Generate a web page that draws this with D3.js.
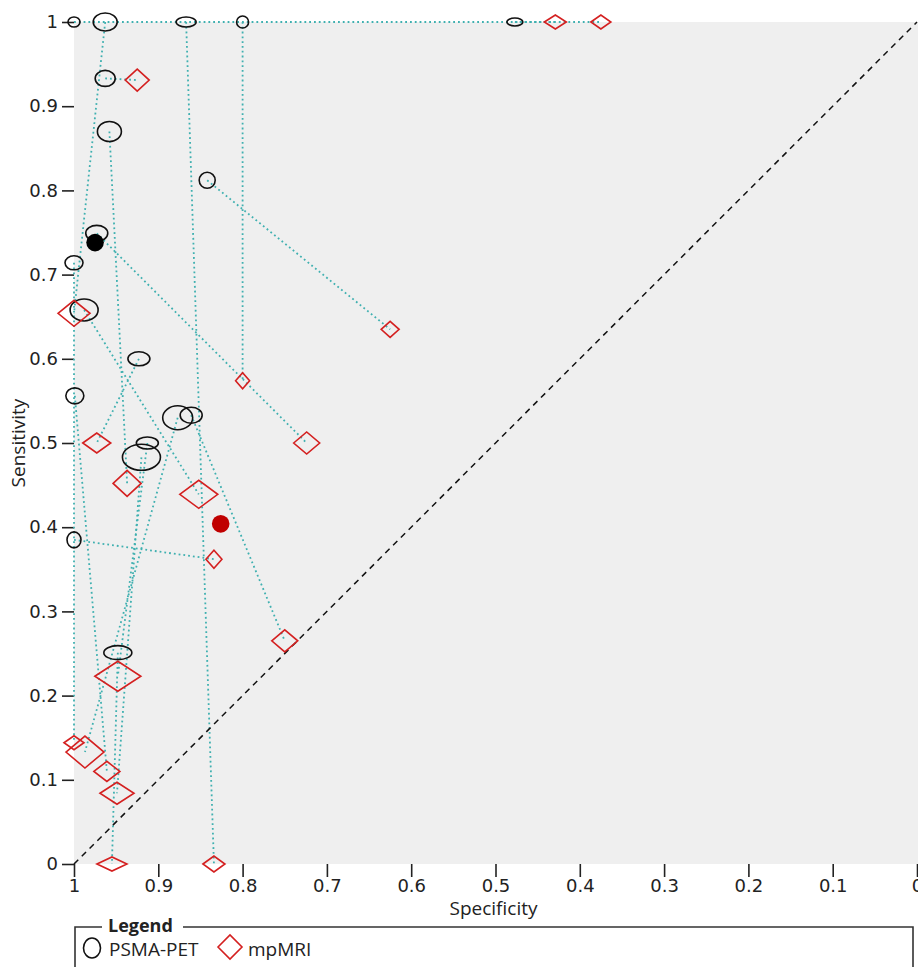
<!DOCTYPE html>
<html>
<head>
<meta charset="utf-8">
<script src="https://cdn.jsdelivr.net/npm/d3@7"></script>
<style>
    body { margin: 0; background: #fff; }
    svg { display: block; }
    text { font-family: "DejaVu Sans", sans-serif; fill: #222; }
</style>
</head>
<body>
<svg id="chart" width="918" height="967"></svg>
<script>
// PSMA-PET study estimates (index i is paired with mpMRI index i)
var petSpec = [1.000, 0.477, 0.963, 0.867, 0.800, 0.963, 0.958, 0.842, 0.973, 1.000,
               0.988, 0.923, 0.999, 0.877, 0.861, 0.913, 0.920, 1.000, 0.948];
var petSens = [1.000, 1.000, 1.000, 1.000, 1.000, 0.933, 0.870, 0.812, 0.749, 0.714,
               0.658, 0.600, 0.556, 0.530, 0.533, 0.500, 0.483, 0.385, 0.251];
// relative precision weights (negatives -> width, positives -> height)
var petWNeg = [6, 8, 12, 10, 6, 10, 12, 8, 11, 9, 14, 11, 9, 15, 11, 11, 19, 7, 14];
var petWPos = [5, 4, 9, 5, 6, 8, 10, 8, 8, 7, 11, 7, 8, 12, 8, 6, 13, 8, 7];

// mpMRI study estimates
var mriSpec = [0.375, 0.429, 1.000, 0.834, 0.800, 0.925, 0.937, 0.625, 0.724, 1.000,
               0.852, 0.973, 0.961, 0.987, 0.750, 0.948, 0.949, 0.834, 0.955];
var mriSens = [1.000, 1.000, 0.654, 0.000, 0.574, 0.931, 0.452, 0.635, 0.500, 0.144,
               0.439, 0.500, 0.110, 0.133, 0.265, 0.223, 0.084, 0.362, 0.000];
var mriWNeg = [10, 11, 16, 11, 7, 12, 14, 9, 13, 10, 19, 14, 13, 19, 13, 23, 17, 8, 15];
var mriWPos = [7, 7, 13, 8, 8, 11, 13, 8, 11, 7, 14, 10, 10, 16, 11, 15, 11, 9, 7];

// summary points
var summarySpec = [0.975, 0.826];
var summarySens = [0.738, 0.404];
var summaryColor = ['#000000', '#c00000'];

var ticks = [1, 0.9, 0.8, 0.7, 0.6, 0.5, 0.4, 0.3, 0.2, 0.1, 0];
var tickLabels = ['1', '0.9', '0.8', '0.7', '0.6', '0.5', '0.4', '0.3', '0.2', '0.1', '0'];

var svg = d3.select('#chart');
var plotLeft = 74, plotTop = 22, plotW = 843, plotH = 842;

var x = d3.scaleLinear().domain([1, 0]).range([plotLeft, plotLeft + plotW]);
var y = d3.scaleLinear().domain([0, 1]).range([plotTop + plotH, plotTop]);
var size = d3.scaleLinear().domain([0, 10]).range([0, 10]);

// plot background
svg.append('rect')
    .attr('x', plotLeft).attr('y', plotTop)
    .attr('width', 918 - plotLeft).attr('height', plotH)
    .attr('fill', '#efefef');

// axes
var fmt = function (d) { return tickLabels[ticks.indexOf(d)]; };

var yAxis = svg.append('g')
    .attr('transform', 'translate(' + plotLeft + ',0)')
    .call(d3.axisLeft(y).tickValues(ticks).tickFormat(fmt).tickSize(12).tickPadding(4));
yAxis.select('.domain').remove();
yAxis.selectAll('line').attr('stroke', '#222').attr('stroke-width', 1.6);
yAxis.selectAll('text').style('font-size', '18px').attr('fill', '#222');

var xAxis = svg.append('g')
    .attr('transform', 'translate(0,' + (plotTop + plotH) + ')')
    .call(d3.axisBottom(x).tickValues(ticks).tickFormat(fmt).tickSize(13).tickPadding(2));
xAxis.select('.domain').remove();
xAxis.selectAll('line').attr('stroke', '#222').attr('stroke-width', 1.6);
xAxis.selectAll('text').style('font-size', '18px').attr('fill', '#222');

svg.append('text')
    .attr('x', x(0.5) - 2).attr('y', 915)
    .attr('text-anchor', 'middle')
    .style('font-family', '"Open Sans", sans-serif')
    .style('font-size', '19px')
    .text('Specificity');

svg.append('text')
    .attr('transform', 'translate(25,' + y(0.5) + ') rotate(-90)')
    .attr('text-anchor', 'middle')
    .style('font-family', '"Open Sans", sans-serif')
    .style('font-size', '19px')
    .text('Sensitivity');

// connecting lines between paired estimates
svg.append('g').selectAll('line')
    .data(d3.range(petSpec.length))
    .enter()
    .append('line')
    .attr('x1', function (i) { return x(petSpec[i]); })
    .attr('y1', function (i) { return y(petSens[i]); })
    .attr('x2', function (i) { return x(mriSpec[i]); })
    .attr('y2', function (i) { return y(mriSens[i]); })
    .attr('stroke', '#3fb0b0')
    .attr('stroke-width', 1.8)
    .attr('stroke-dasharray', '1.8,3');

// chance diagonal
svg.append('line')
    .attr('x1', x(1)).attr('y1', y(0))
    .attr('x2', x(0)).attr('y2', y(1))
    .attr('stroke', '#111')
    .attr('stroke-width', 1.5)
    .attr('stroke-dasharray', '6,5');

// PSMA-PET ellipses
svg.append('g').selectAll('ellipse')
    .data(d3.range(petSpec.length))
    .enter()
    .append('ellipse')
    .attr('cx', function (i) { return x(petSpec[i]); })
    .attr('cy', function (i) { return y(petSens[i]); })
    .attr('rx', function (i) { return size(petWNeg[i]); })
    .attr('ry', function (i) { return size(petWPos[i]); })
    .attr('fill', 'none')
    .attr('stroke', '#111')
    .attr('stroke-width', 1.6);

// mpMRI diamonds
svg.append('g').selectAll('path')
    .data(d3.range(mriSpec.length))
    .enter()
    .append('path')
    .attr('d', function (i) {
        var cx = x(mriSpec[i]), cy = y(mriSens[i]);
        var hw = size(mriWNeg[i]), hh = size(mriWPos[i]);
        return 'M' + (cx - hw) + ',' + cy + 'L' + cx + ',' + (cy - hh) +
            'L' + (cx + hw) + ',' + cy + 'L' + cx + ',' + (cy + hh) + 'Z';
    })
    .attr('fill', 'none')
    .attr('stroke', '#d42020')
    .attr('stroke-width', 1.6);

// summary points
svg.append('g').selectAll('circle')
    .data(d3.range(summarySpec.length))
    .enter()
    .append('circle')
    .attr('cx', function (i) { return x(summarySpec[i]); })
    .attr('cy', function (i) { return y(summarySens[i]); })
    .attr('r', 8.8)
    .attr('fill', function (i) { return summaryColor[i]; });

// legend
var legend = svg.append('g');
legend.append('path')
    .attr('d', 'M102,927 H75 V975 M183,927 H913 V975')
    .attr('fill', 'none')
    .attr('stroke', '#333')
    .attr('stroke-width', 1.6);
legend.append('text')
    .attr('x', 108).attr('y', 932)
    .style('font-family', '"Open Sans", sans-serif')
    .style('font-size', '18px')
    .style('font-weight', 'bold')
    .text('Legend');
legend.append('ellipse')
    .attr('cx', 92).attr('cy', 948).attr('rx', 8.5).attr('ry', 10)
    .attr('fill', 'none').attr('stroke', '#111').attr('stroke-width', 1.6);
legend.append('text')
    .attr('x', 109).attr('y', 956)
    .style('font-family', '"Open Sans", sans-serif')
    .style('font-size', '19px')
    .text('PSMA-PET');
legend.append('path')
    .attr('d', 'M218,947 L230,935 L242,947 L230,959 Z')
    .attr('fill', 'none').attr('stroke', '#d42020').attr('stroke-width', 1.6);
legend.append('text')
    .attr('x', 248).attr('y', 956)
    .style('font-family', '"Open Sans", sans-serif')
    .style('font-size', '19px')
    .text('mpMRI');
</script>
</body>
</html>
